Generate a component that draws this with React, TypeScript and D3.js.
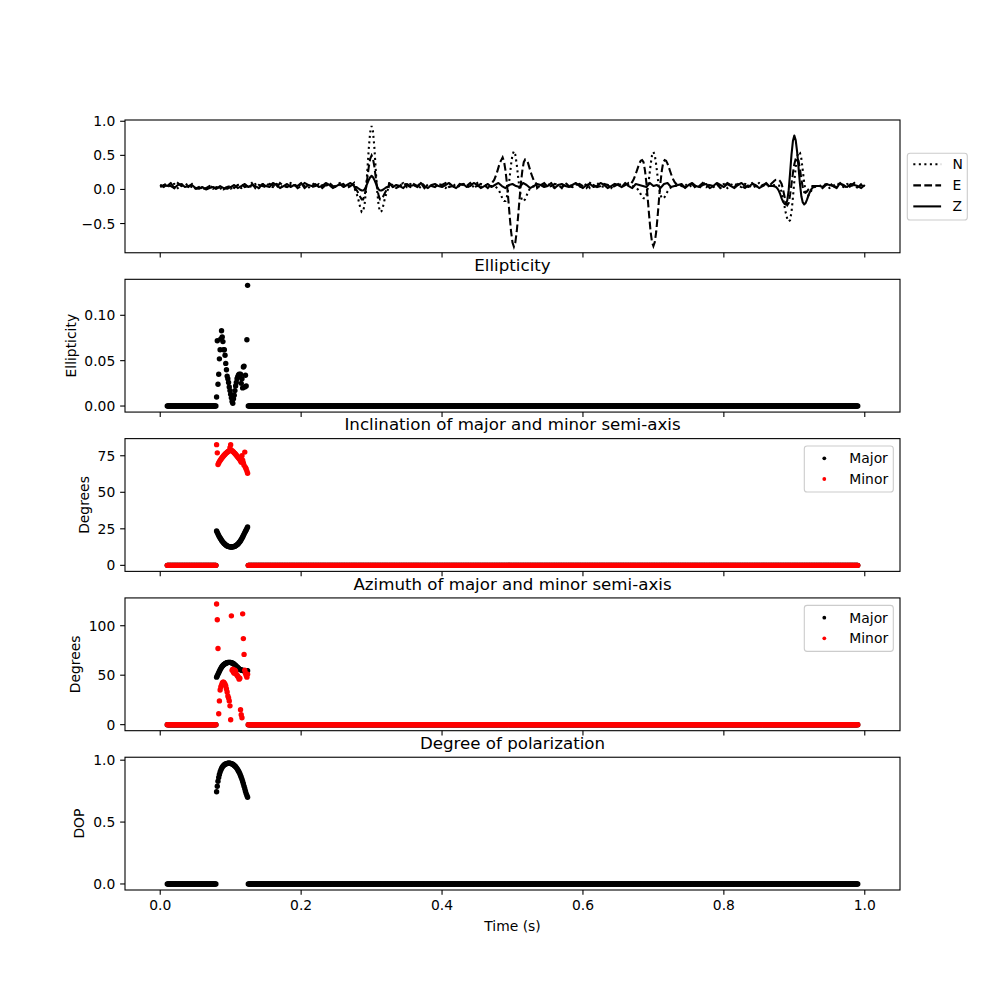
import React, { useMemo } from 'react';
import * as d3 from 'd3';

// ---------------- Seismogram data ----------------
const TRACE_DT = 0.005; // baseline sampling (s)
const PULSE_DT = 0.002; // pulse window sampling (s)

const N_BASE = [
  .05,.095,.035,.065,.08,.02,.065,.095,.05,.035,
  .02,0,.035,.01,.02,.05,0,.01,.035,.02,
  .01,.035,.05,.02,.065,.035,.05,.08,.02,.065,
  .095,.05,.035,.08,.065,.02,.05,.095,.065,.035,
  .08,.05,.02,.065,.095,.035,.065,.05,.08,.02,
  .065,.095,.05,.035,.08,.065,.02,.05,.08,.035,
  .065,.05,.095,.035,.065,.08,.05,.02,.065,.095,
  .035,.08,.05,.065,.02,.095,.05,.065,.035,.08,
  .05,.02,.065,.095,.035,.05,.08,.065,.02,.05,
  .095,.035,.065,.05,.08,.02,.065,.035,.095,.05,
  .065,.035,.08,.05,.02,.065,.095,.05,.035,.065,
  .08,.05,.02,.065,.035,.095,.05,.065,.08,.035,
  .05,.08,.02,.065,.095,.05,.035,.065,.02,.08,
  .05,.095,.035,.065,.08,.02,.05,.065,.035,.095,
  .065,.05,.08,.02,.065,.035,.095,.05,.065,.08,
  .035,.065,.05,.02,.08,.095,.05,.035,.065,.05,
  .08,.02,.065,.095,.05,.035,.08,.065,.02,.05,
  .095,.065,.035,.05,.08,.02,.065,.05,.095,.035,
  .065,.08,.05,.02,.065,.095,.035,.05,.08,.065,
  .02,.05,.095,.065,.035,.08,.05,.065,.02,.08,
  .05,
];
const E_BASE = [
  .065,.035,.08,.05,.02,.095,.05,.065,.035,.08,
  .01,.035,0,.02,.05,.01,.035,.02,0,.035,
  .05,.02,.065,.08,.035,.05,.095,.02,.065,.05,
  .035,.08,.065,.02,.095,.05,.035,.065,.08,.02,
  .05,.095,.065,.035,.05,.08,.02,.065,.095,.05,
  .035,.065,.08,.02,.05,.095,.065,.035,.08,.05,
  .02,.065,.095,.05,.035,.08,.065,.02,.05,.095,
  .065,.035,.08,.05,.095,.02,.065,.05,.035,.08,
  .065,.095,.035,.05,.02,.08,.065,.05,.095,.035,
  .05,.08,.065,.02,.095,.05,.035,.065,.08,.05,
  .02,.065,.095,.035,.05,.08,.05,.02,.065,.095,
  .035,.05,.08,.065,.02,.095,.05,.035,.065,.08,
  .05,.02,.095,.065,.035,.05,.08,.065,.02,.05,
  .08,.035,.065,.095,.05,.02,.065,.08,.035,.05,
  .095,.065,.035,.05,.08,.02,.065,.095,.05,.035,
  .065,.08,.02,.05,.095,.035,.065,.05,.08,.02,
  .05,.095,.065,.035,.08,.05,.02,.065,.095,.05,
  .035,.065,.08,.05,.02,.095,.05,.035,.065,.08,
  .05,.02,.065,.095,.035,.08,.05,.065,.02,.065,
  .095,.05,.035,.08,.065,.02,.05,.095,.035,.065,
  .035,
];
const Z_BASE = [
  .035,.065,.05,.095,.02,.065,.08,.035,.05,.065,
  .02,.01,.035,0,.02,.035,.01,.05,.02,.01,
  .035,.065,.02,.05,.08,.035,.065,.05,.02,.08,
  .05,.035,.095,.065,.02,.05,.08,.035,.065,.05,
  .095,.02,.065,.05,.08,.035,.05,.095,.065,.02,
  .05,.08,.035,.065,.095,.05,.02,.065,.08,.035,
  .065,.05,.02,.08,.05,.095,.035,.065,.05,.02,
  .08,.05,.065,.035,.095,.05,.02,.065,.08,.05,
  .035,.065,.095,.05,.02,.065,.08,.035,.05,.095,
  .065,.02,.05,.08,.035,.065,.095,.05,.02,.065,
  .08,.05,.035,.095,.065,.02,.05,.08,.065,.035,
  .05,.095,.02,.065,.08,.05,.035,.065,.095,.05,
  .02,.065,.08,.035,.05,.095,.065,.02,.05,.08,
  .065,.035,.095,.05,.02,.08,.065,.05,.035,.095,
  .05,.065,.02,.08,.095,.035,.05,.065,.08,.02,
  .065,.095,.05,.035,.065,.08,.02,.05,.095,.065,
  .035,.08,.05,.02,.065,.095,.05,.035,.08,.065,
  .02,.05,.095,.065,.035,.08,.05,.02,.065,.095,
  .05,.035,.08,.065,.02,.05,.095,.065,.035,.08,
  .065,.05,.02,.095,.05,.035,.08,.065,.05,.02,
  .065,
];

// pulse windows: [start time, samples every PULSE_DT]
const N_PULSES: [number, number[]][] = [
  [0.276, [0.01,-0.04,-0.10,-0.18,-0.27,-0.33,-0.32,-0.23,-0.02,0.28,0.60,0.84,0.93,0.85,0.61,0.27,-0.03,-0.24,-0.33,-0.32,-0.26,-0.17,-0.09,-0.03,0.02]],
  [0.470, [0.05,0.05,0.045,0.04,0.02,0.0,-0.04,-0.09,-0.14,-0.17,-0.17,-0.11,0.01,0.18,0.37,0.51,0.56,0.51,0.37,0.18,0.01,-0.11,-0.17,-0.17,-0.14,-0.09,-0.04,0.0,0.02,0.04,0.045,0.05,0.05]],
  [0.668, [0.05,0.05,0.045,0.04,0.02,0.0,-0.03,-0.07,-0.11,-0.13,-0.13,-0.08,0.02,0.18,0.36,0.50,0.55,0.50,0.36,0.18,0.02,-0.08,-0.13,-0.13,-0.11,-0.07,-0.03,0.0,0.02,0.04,0.045,0.05,0.05]],
  [0.864, [0.05,0.05,0.055,0.06,0.065,0.07,0.07,0.06,0.03,-0.04,-0.13,-0.24,-0.35,-0.43,-0.47,-0.45,-0.33,-0.12,0.12,0.33,0.48,0.55,0.54,0.45,0.28,0.10,-0.03,-0.09,-0.09,-0.06,-0.02,0.01,0.03,0.04,0.05,0.05,0.05]],
];
const E_PULSES: [number, number[]][] = [
  [0.276, [0.025,0.0,-0.03,-0.07,-0.11,-0.145,-0.145,-0.09,0.015,0.17,0.33,0.45,0.50,0.45,0.33,0.17,0.015,-0.09,-0.145,-0.145,-0.11,-0.07,-0.03,0.0,0.025]],
  [0.470, [0.08,0.11,0.14,0.19,0.25,0.32,0.39,0.43,0.47,0.41,0.28,0.10,-0.14,-0.39,-0.62,-0.78,-0.84,-0.78,-0.62,-0.39,-0.14,0.10,0.28,0.40,0.44,0.43,0.39,0.32,0.25,0.19,0.14,0.11,0.08]],
  [0.668, [0.08,0.11,0.15,0.20,0.26,0.32,0.38,0.42,0.43,0.40,0.28,0.10,-0.14,-0.39,-0.62,-0.77,-0.83,-0.77,-0.62,-0.39,-0.14,0.10,0.28,0.40,0.43,0.42,0.38,0.32,0.26,0.20,0.15,0.11,0.08]],
  [0.864, [0.05,0.07,0.09,0.11,0.13,0.14,0.14,0.14,0.12,0.08,0.0,-0.10,-0.19,-0.23,-0.20,-0.08,0.08,0.24,0.37,0.45,0.47,0.42,0.30,0.15,0.03,-0.04,-0.05,-0.03,0.0,0.02,0.04,0.05,0.05,0.05,0.05,0.05,0.05]],
];
const Z_PULSES: [number, number[]][] = [
  [0.276, [0.04,0.035,0.025,0.01,-0.005,-0.015,-0.015,0.0,0.04,0.09,0.14,0.18,0.20,0.18,0.14,0.09,0.04,0.0,-0.015,-0.015,-0.005,0.01,0.025,0.035,0.04]],
  [0.864, [0.05,0.05,0.05,0.05,0.045,0.035,0.015,-0.02,-0.07,-0.13,-0.18,-0.21,-0.22,-0.16,-0.01,0.24,0.51,0.71,0.79,0.72,0.55,0.32,0.08,-0.10,-0.19,-0.22,-0.20,-0.15,-0.09,-0.04,0.0,0.025,0.04,0.05,0.05,0.05,0.05]],
];

// ---------------- Polarization data ----------------
const POL_T_START = 0.010;
const POL_T_END = 0.990;
const POL_DT = 0.001;
const ACTIVE_T0 = 0.080; // first time of non-zero window values

const ELLIPTICITY = [0.010,0.072,0.024,0.035,0.052,0.062,0.074,0.083,0.076,0.071,0.062,0.062,0.056,0.047,0.040,0.033,0.030,0.026,0.021,0.017,0.013,0.009,0.005,0.003,0.008,0.012,0.017,0.022,0.026,0.030,0.032,0.034,0.035,0.033,0.035,0.025,0.030,0.020,0.043,0.044,0.021,0.034,0.022,0.073,0.133];
const INC_MAJOR = [23.5,22.5,21.5,20.5,19.5,18.7,18,17.2,16.5,15.9,15.3,14.8,14.4,14,13.6,13.3,13.1,12.9,12.8,12.7,12.6,12.6,12.6,12.7,12.8,12.9,13.1,13.4,13.7,14.1,14.5,15,15.6,16.2,16.9,17.7,18.5,19.4,20.4,21.4,22.4,23.3,24.2,25.2,26.2];
const INC_MINOR = [82.6,77,69,70,71,71.8,72.5,73.2,73.8,74.4,75,75.5,76,76.5,77,77.4,77.8,78.2,78.5,80.5,82.5,78.6,78.4,78,77.6,77,76.5,76,75.4,74.8,74.2,73.6,73,72.4,71.5,70.6,75,72,70,68.5,77.5,67,66,64.5,63];
const AZI_MAJOR = [48,49.5,51,52.5,54,55.5,56.8,58,59,59.8,60.5,61.1,61.6,62,62.3,62.6,62.8,63,63,63,62.9,62.7,62.4,62,61.5,61,60.4,59.8,59.1,58.4,57.7,57,56.4,55.9,55.5,55.2,55,54.8,54.7,54.6,54.5,54.5,54.5,54.5,54.5];
const AZI_MINOR = [122,106,77,11,24,35,38,40,42,43,43,42,41,39,36,33,29,27,24,19,5,110,55,56,53,52,55,54,51,50,49,48,46,47,15,10,7,112,87,71,55,52,50,48,51];
const DOP = [0.745,0.79,0.83,0.86,0.885,0.905,0.92,0.933,0.943,0.952,0.958,0.963,0.967,0.97,0.972,0.974,0.975,0.975,0.975,0.975,0.974,0.972,0.97,0.967,0.963,0.958,0.953,0.947,0.94,0.932,0.923,0.913,0.902,0.89,0.877,0.862,0.846,0.828,0.81,0.79,0.77,0.75,0.73,0.715,0.70];

// ---------------- Ticks ----------------
const X_TICKS = [0, 0.2, 0.4, 0.6, 0.8, 1.0];
const X_TICK_LABELS = ['0.0', '0.2', '0.4', '0.6', '0.8', '1.0'];
const TRACE_TICKS = [-0.5, 0, 0.5, 1.0];
const TRACE_TICK_LABELS = ['\u22120.5', '0.0', '0.5', '1.0'];
const ELL_TICKS = [0, 0.05, 0.1];
const ELL_TICK_LABELS = ['0.00', '0.05', '0.10'];
const INC_TICKS = [0, 25, 50, 75];
const INC_TICK_LABELS = ['0', '25', '50', '75'];
const AZI_TICKS = [0, 50, 100];
const AZI_TICK_LABELS = ['0', '50', '100'];
const DOP_TICKS = [0, 0.5, 1.0];
const DOP_TICK_LABELS = ['0.0', '0.5', '1.0'];

// ---------------- Layout ----------------
const LEFT = 125, RIGHT = 900, AX_TOP = 120, AX_BOTTOM = 890;
const NP = 5, HSPACE = 0.2;
const AX_H = (AX_BOTTOM - AX_TOP) / (NP + (NP - 1) * HSPACE);
const panelTop = (i: number) => AX_TOP + i * AX_H * (1 + HSPACE);
const FS = 13.89, TITLE_FS = 16.67;
const TICK_LEN = 4.86, TICK_PAD = 4.86;
const FONT = "'DejaVu Sans', sans-serif";
const LW = 2.08;
const DOT_R = 2.7;

function padExtent(vals: number[]): [number, number] {
  const [a, b] = d3.extent(vals) as [number, number];
  const r = b - a;
  return [a - 0.05 * r, b + 0.05 * r];
}

function buildTrace(base: number[], pulses: [number, number[]][]) {
  const pts: [number, number][] = [];
  base.forEach((v, i) => {
    const t = i * TRACE_DT;
    const inside = pulses.some(([t0, vals]) => t >= t0 - 1e-9 && t <= t0 + (vals.length - 1) * PULSE_DT + 1e-9);
    if (!inside) pts.push([t, v]);
  });
  pulses.forEach(([t0, vals]) => vals.forEach((v, j) => pts.push([t0 + j * PULSE_DT, v])));
  pts.sort((a, b) => a[0] - b[0]);
  return pts;
}

function buildPol(active: number[]) {
  const n = Math.round((POL_T_END - POL_T_START) / POL_DT) + 1;
  const out: [number, number][] = [];
  for (let i = 0; i < n; i++) {
    const t = POL_T_START + i * POL_DT;
    const k = Math.round((t - ACTIVE_T0) / POL_DT);
    out.push([t, k >= 0 && k < active.length ? active[k] : 0]);
  }
  return out;
}

let _ctx: CanvasRenderingContext2D | null = null;
function textWidth(s: string, size: number) {
  if (!_ctx) _ctx = document.createElement('canvas').getContext('2d');
  if (!_ctx) return s.length * size * 0.6;
  _ctx.font = `${size}px 'DejaVu Sans'`;
  return _ctx.measureText(s).width;
}

const x = d3.scaleLinear().domain(padExtent([0, (N_BASE.length - 1) * TRACE_DT])).range([LEFT, RIGHT]);

type AxesProps = {
  idx: number;
  y: d3.ScaleLinear<number, number>;
  yTicks: number[];
  yLabels: string[];
  title?: string;
  ylabel?: string;
  showX: boolean;
  children?: React.ReactNode;
};

function Axes({ idx, y, yTicks, yLabels, title, ylabel, showX, children }: AxesProps) {
  const top = panelTop(idx);
  const bottom = top + AX_H;
  const maxW = Math.max(...yLabels.map((l) => textWidth(l, FS)));
  const ylabelX = LEFT - TICK_LEN - TICK_PAD - maxW - 5.56 - 3.3;
  const cy = (top + bottom) / 2;
  return (
    <g>
      {children}
      <rect x={LEFT} y={top} width={RIGHT - LEFT} height={AX_H} fill="none" stroke="#000" strokeWidth={1.1} />
      {X_TICKS.map((t, i) => (
        <g key={'x' + i}>
          <line x1={x(t)} x2={x(t)} y1={bottom} y2={bottom + TICK_LEN} stroke="#000" strokeWidth={1.1} />
          {showX && (
            <text x={x(t)} y={bottom + 20.3} fontSize={FS} textAnchor="middle" fill="#000">{X_TICK_LABELS[i]}</text>
          )}
        </g>
      ))}
      {yTicks.map((t, i) => (
        <g key={'y' + i}>
          <line x1={LEFT - TICK_LEN} x2={LEFT} y1={y(t)} y2={y(t)} stroke="#000" strokeWidth={1.1} />
          <text x={LEFT - TICK_LEN - TICK_PAD} y={y(t) + 5} fontSize={FS} textAnchor="end" fill="#000">{yLabels[i]}</text>
        </g>
      ))}
      {title && (
        <text x={(LEFT + RIGHT) / 2} y={top - 8.33} fontSize={TITLE_FS} textAnchor="middle" fill="#000">{title}</text>
      )}
      {ylabel && (
        <text transform={`translate(${ylabelX},${cy}) rotate(-90)`} fontSize={FS} textAnchor="middle" fill="#000">{ylabel}</text>
      )}
    </g>
  );
}

function Dots({ data, y, color }: { data: [number, number][]; y: d3.ScaleLinear<number, number>; color: string }) {
  return (
    <g fill={color}>
      {data.map((d, i) => (
        <circle key={i} cx={x(d[0])} cy={y(d[1])} r={DOT_R} />
      ))}
    </g>
  );
}

function PolLegend({ idx }: { idx: number }) {
  const top = panelTop(idx);
  return (
    <g>
      <rect x={804.3} y={top + 7.4} width={89} height={46} rx={2.8} fill="#fff" fillOpacity={0.8} stroke="#cccccc" strokeWidth={1.1} />
      <circle cx={824.3} cy={top + 19.7} r={1.9} fill="#000" />
      <text x={849.3} y={top + 19.7 + 5} fontSize={FS} fill="#000">Major</text>
      <circle cx={824.3} cy={top + 40.4} r={1.9} fill="#ff0000" />
      <text x={849.3} y={top + 40.4 + 5} fontSize={FS} fill="#000">Minor</text>
    </g>
  );
}

export default function App() {
  const traces = useMemo(() => ({
    N: buildTrace(N_BASE, N_PULSES),
    E: buildTrace(E_BASE, E_PULSES),
    Z: buildTrace(Z_BASE, Z_PULSES),
  }), []);
  const pol = useMemo(() => ({
    ell: buildPol(ELLIPTICITY),
    incMaj: buildPol(INC_MAJOR),
    incMin: buildPol(INC_MINOR),
    aziMaj: buildPol(AZI_MAJOR),
    aziMin: buildPol(AZI_MINOR),
    dop: buildPol(DOP),
  }), []);

  const ty = (i: number, vals: number[]) =>
    d3.scaleLinear().domain(padExtent(vals)).range([panelTop(i) + AX_H, panelTop(i)]);

  const yTrace = ty(0, [...traces.N, ...traces.E, ...traces.Z].map((d) => d[1]));
  const yEll = ty(1, pol.ell.map((d) => d[1]));
  const yInc = ty(2, [...pol.incMaj, ...pol.incMin].map((d) => d[1]));
  const yAzi = ty(3, [...pol.aziMaj, ...pol.aziMin].map((d) => d[1]));
  const yDop = ty(4, pol.dop.map((d) => d[1]));

  const line = (y: d3.ScaleLinear<number, number>) =>
    d3.line<[number, number]>().x((d) => x(d[0])).y((d) => y(d[1]));

  const t0 = panelTop(0);

  return (
    <svg width={1000} height={1000} style={{ position: 'absolute', left: 0, top: 0, background: '#fff' }} fontFamily={FONT}>
      <rect x={0} y={0} width={1000} height={1000} fill="#fff" />
      <Axes idx={0} y={yTrace} yTicks={TRACE_TICKS} yLabels={TRACE_TICK_LABELS} showX={false}>
        <path d={line(yTrace)(traces.N) || ''} fill="none" stroke="#000" strokeWidth={LW} strokeDasharray="2.08,3.44" />
        <path d={line(yTrace)(traces.E) || ''} fill="none" stroke="#000" strokeWidth={LW} strokeDasharray="7.7,3.33" />
        <path d={line(yTrace)(traces.Z) || ''} fill="none" stroke="#000" strokeWidth={LW} strokeLinejoin="round" />
      </Axes>
      <g>
        <rect x={907.3} y={t0 + 33.3} width={60} height={66.7} rx={2.8} fill="#fff" fillOpacity={0.8} stroke="#cccccc" strokeWidth={1.1} />
        <line x1={913.3} x2={941.1} y1={t0 + 44.3} y2={t0 + 44.3} stroke="#000" strokeWidth={LW} strokeDasharray="2.08,3.44" />
        <text x={952.5} y={t0 + 44.3 + 5} fontSize={FS} fill="#000">N</text>
        <line x1={913.3} x2={941.1} y1={t0 + 65.4} y2={t0 + 65.4} stroke="#000" strokeWidth={LW} strokeDasharray="7.7,3.33" />
        <text x={952.5} y={t0 + 65.4 + 5} fontSize={FS} fill="#000">E</text>
        <line x1={913.3} x2={941.1} y1={t0 + 86.4} y2={t0 + 86.4} stroke="#000" strokeWidth={LW} />
        <text x={952.5} y={t0 + 86.4 + 5} fontSize={FS} fill="#000">Z</text>
      </g>

      <Axes idx={1} y={yEll} yTicks={ELL_TICKS} yLabels={ELL_TICK_LABELS} showX={false} title="Ellipticity" ylabel="Ellipticity">
        <Dots data={pol.ell} y={yEll} color="#000" />
      </Axes>

      <Axes idx={2} y={yInc} yTicks={INC_TICKS} yLabels={INC_TICK_LABELS} showX={false} title="Inclination of major and minor semi-axis" ylabel="Degrees">
        <Dots data={pol.incMaj} y={yInc} color="#000" />
        <Dots data={pol.incMin} y={yInc} color="#ff0000" />
      </Axes>
      <PolLegend idx={2} />

      <Axes idx={3} y={yAzi} yTicks={AZI_TICKS} yLabels={AZI_TICK_LABELS} showX={false} title="Azimuth of major and minor semi-axis" ylabel="Degrees">
        <Dots data={pol.aziMaj} y={yAzi} color="#000" />
        <Dots data={pol.aziMin} y={yAzi} color="#ff0000" />
      </Axes>
      <PolLegend idx={3} />

      <Axes idx={4} y={yDop} yTicks={DOP_TICKS} yLabels={DOP_TICK_LABELS} showX={true} title="Degree of polarization" ylabel="DOP">
        <Dots data={pol.dop} y={yDop} color="#000" />
      </Axes>

      <text x={(LEFT + RIGHT) / 2} y={931} fontSize={FS} textAnchor="middle" fill="#000">Time (s)</text>
    </svg>
  );
}
